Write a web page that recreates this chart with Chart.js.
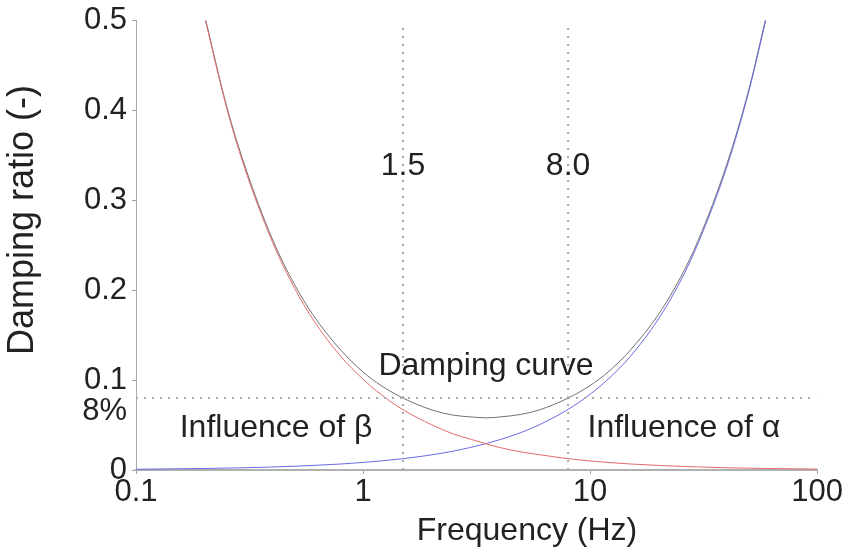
<!DOCTYPE html>
<html>
<head>
<meta charset="utf-8">
<script src="https://cdn.jsdelivr.net/npm/chart.js@4/dist/chart.umd.min.js"></script>
<style>
  html, body { margin: 0; padding: 0; background: #fff; }
  canvas { display: block; }
</style>
</head>
<body>
<canvas id="chart" width="846" height="551"></canvas>
<script>
// values (frequency in Hz, damping ratio)
const freqBeta = [0.2, 0.25, 0.3, 0.4, 0.5, 0.6, 0.8, 1, 1.2, 1.5, 2, 2.5, 3, 3.5, 4, 5, 6, 8, 10, 12, 15, 20, 25, 30, 40, 50, 60, 80, 100];
const influenceBeta = [0.505, 0.404, 0.337, 0.253, 0.202, 0.168, 0.126, 0.101, 0.084, 0.067, 0.0505, 0.040, 0.034, 0.029, 0.025, 0.020, 0.017, 0.0126, 0.0101, 0.0084, 0.0067, 0.0051, 0.0040, 0.0034, 0.0025, 0.0020, 0.0017, 0.0013, 0.0010];

const freqAlpha = [0.1, 0.2, 0.3, 0.5, 0.8, 1, 1.5, 2, 2.5, 3, 3.5, 4, 5, 6, 8, 10, 12, 15, 20, 25, 30, 40, 50, 60];
const influenceAlpha = [0.00084, 0.0017, 0.0025, 0.0042, 0.0067, 0.0084, 0.0126, 0.0168, 0.021, 0.0253, 0.0295, 0.0337, 0.042, 0.0505, 0.0674, 0.0842, 0.101, 0.126, 0.168, 0.21, 0.253, 0.337, 0.421, 0.505];

const freqDamping = [0.2, 0.25, 0.3, 0.4, 0.5, 0.6, 0.8, 1, 1.2, 1.5, 2, 2.5, 3, 3.5, 4, 5, 6, 8, 10, 12, 15, 20, 25, 30, 40, 50, 60];
const dampingCurve = [0.507, 0.406, 0.340, 0.256, 0.206, 0.173, 0.133, 0.109, 0.094, 0.080, 0.067, 0.061, 0.059, 0.058, 0.059, 0.062, 0.067, 0.080, 0.094, 0.109, 0.133, 0.173, 0.214, 0.256, 0.340, 0.423, 0.507];

const markFreqs = [1.5, 8.0];
const markLabels = ["1.5", "8.0"];
const targetRatio = 0.08;
const targetLabel = "8%";

const xTicks = [0.1, 1, 10, 100];
const yTicks = [0, 0.1, 0.2, 0.3, 0.4, 0.5];

const FONT = "'Liberation Sans', Arial, sans-serif";
const TEXT = "#222";

const toPoints = (xs, ys) => xs.map((x, i) => ({ x: x, y: ys[i] }));

// free text on the plot, placed in data units
const notes = [
  { text: "Damping curve", x: 3.48, y: 0.115 },
  { text: "Influence of \u03b2", x: 0.414, y: 0.046 },
  { text: "Influence of \u03b1", x: 25.9, y: 0.046 },
  { text: markLabels[0], x: markFreqs[0], y: 0.338 },
  { text: markLabels[1], x: markFreqs[1], y: 0.338 },
];

const notesPlugin = {
  id: "notes",
  afterDatasetsDraw(chart) {
    const { ctx, scales } = chart;
    ctx.save();
    ctx.fillStyle = TEXT;
    ctx.font = "32px " + FONT;
    ctx.textAlign = "center";
    ctx.textBaseline = "middle";
    notes.forEach((n) => {
      ctx.fillText(n.text, scales.x.getPixelForValue(n.x), scales.y.getPixelForValue(n.y));
    });

    // axis titles sit a bit off-centre in the original, so they are drawn here
    ctx.fillText("Frequency (Hz)", 527, 531);
    ctx.save();
    ctx.translate(23, 220);
    ctx.rotate(-Math.PI / 2);
    ctx.font = "36px " + FONT;
    ctx.fillText("Damping ratio (-)", 0, 0);
    ctx.restore();

    // "8%" sits just under the 0.1 tick label
    ctx.font = "31px " + FONT;
    ctx.textAlign = "right";
    ctx.fillText(targetLabel, scales.y.left + scales.y.width - 9, scales.y.getPixelForValue(targetRatio) + 13);
    ctx.restore();
  },
};

const dotted = { borderColor: "#a8a8a8", borderWidth: 2, borderDash: [2, 6], pointRadius: 0, fill: false };

new Chart(document.getElementById("chart"), {
  type: "line",
  data: {
    datasets: [
      Object.assign({ data: [{ x: markFreqs[0], y: 0 }, { x: markFreqs[0], y: 0.495 }] }, dotted),
      Object.assign({ data: [{ x: markFreqs[1], y: 0 }, { x: markFreqs[1], y: 0.495 }] }, dotted),
      Object.assign({ data: [{ x: 0.1, y: targetRatio }, { x: 99, y: targetRatio }] }, dotted),
      {
        data: toPoints(freqBeta, influenceBeta),
        borderColor: "#e36a6a",
        borderWidth: 1,
        pointRadius: 0,
        cubicInterpolationMode: "monotone",
      },
      {
        data: toPoints(freqAlpha, influenceAlpha),
        borderColor: "#6a6ae6",
        borderWidth: 1,
        pointRadius: 0,
        cubicInterpolationMode: "monotone",
      },
      {
        data: toPoints(freqDamping, dampingCurve),
        borderColor: "#707070",
        borderWidth: 1,
        pointRadius: 0,
        cubicInterpolationMode: "monotone",
      },
    ],
  },
  options: {
    responsive: false,
    animation: false,
    layout: { autoPadding: false, padding: { top: 15, right: 28, bottom: 0, left: 0 } },
    plugins: { legend: { display: false }, tooltip: { enabled: false } },
    scales: {
      x: {
        type: "logarithmic",
        min: 0.1,
        max: 100,
        afterBuildTicks: (scale) => {
          scale.ticks = xTicks.map((v) => ({ value: v }));
        },
        afterFit: (scale) => {
          scale.height = 81;
        },
        ticks: {
          autoSkip: false,
          maxRotation: 0,
          padding: 3,
          color: TEXT,
          font: { family: FONT, size: 31, lineHeight: 1 },
          callback: (v) => String(v),
        },
        grid: { drawOnChartArea: false, drawTicks: true, tickLength: 4, color: "#a0a0a0" },
        border: { display: true, color: "#b0b0b0", width: 2 },
      },
      y: {
        min: 0,
        max: 0.5,
        afterBuildTicks: (scale) => {
          scale.ticks = yTicks.map((v) => ({ value: v }));
        },
        afterFit: (scale) => {
          scale.width = 136;
        },
        ticks: {
          padding: 5,
          color: TEXT,
          font: { family: FONT, size: 31, lineHeight: 1 },
          callback: (v) => (v === 0 ? "0" : v.toFixed(1)),
        },
        grid: { drawOnChartArea: false, drawTicks: true, tickLength: 4, color: "#a0a0a0" },
        border: { display: true, color: "#a8a8a8", width: 1 },
      },
    },
  },
  plugins: [notesPlugin],
});
</script>
</body>
</html>
